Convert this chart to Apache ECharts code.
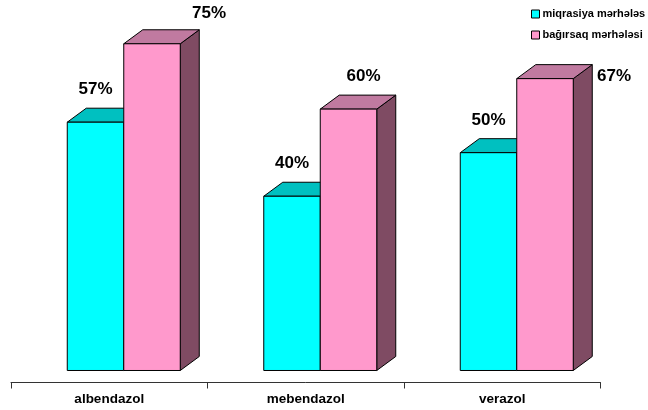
<!DOCTYPE html>
<html>
<head>
<meta charset="utf-8">
<script src="https://cdn.jsdelivr.net/npm/echarts@6/dist/echarts.min.js"></script>
<style>
html,body{margin:0;padding:0;background:#fff;}
#chart{width:648px;height:410px;}
</style>
</head>
<body>
<div id="chart"></div>
<script>
const categories = ['albendazol', 'mebendazol', 'verazol'];
const seriesNames = ['miqrasiya mərhələs', 'bağırsaq mərhələsi'];
const migrationValues = [57, 40, 50];
const intestinalValues = [75, 60, 67];

// style settings (not data)
const FONT = 'Liberation Sans, Arial, sans-serif';
const faceColors = [
  { front: '#00FFFF', top: '#00C0C0', side: '#008080' },
  { front: '#FF99CC', top: '#C07AA0', side: '#7F4B63' }
];
const barStartFrac = [-42 / 196.5, 14.5 / 196.5];
const barWidthFrac = 56.5 / 196.5;
const depthFrac = 19 / 196.5;
const depthRatio = 14 / 19;
const floorGap = 2.755; // floor of 3D bars sits above the axis line
const labelShift = [
  [[0, -33], [0, -33], [0, -32]],
  [[57, -30], [15, -33], [69, -2]]
];

function makeRender(sIdx) {
  return function (params, api) {
    const idx = api.value(0);
    const val = api.value(1);
    const c = api.coord([idx, val]);
    const b = api.coord([idx, 0]);
    const bw = api.size([1, 0])[0];
    const x0 = c[0] + barStartFrac[sIdx] * bw;
    const w = barWidthFrac * bw;
    const top = c[1];
    const bottom = b[1];
    const dx = depthFrac * bw;
    const dy = dx * depthRatio;
    const col = faceColors[sIdx];
    const stroke = { stroke: '#000', lineWidth: 1 };
    const sh = labelShift[sIdx][params.dataIndex];
    return {
      type: 'group',
      children: [
        { type: 'polygon', shape: { points: [[x0 + w, top], [x0 + w + dx, top - dy], [x0 + w + dx, bottom - dy], [x0 + w, bottom]] },
          style: Object.assign({ fill: col.side }, stroke) },
        { type: 'polygon', shape: { points: [[x0, top], [x0 + dx, top - dy], [x0 + w + dx, top - dy], [x0 + w, top]] },
          style: Object.assign({ fill: col.top }, stroke) },
        { type: 'rect', shape: { x: x0, y: top, width: w, height: bottom - top },
          style: Object.assign({ fill: col.front }, stroke) },
        { type: 'text', x: x0 + w / 2 + sh[0], y: top + sh[1],
          style: { text: val + '%', fill: '#000', font: 'bold 17px ' + FONT, align: 'center', verticalAlign: 'middle' } }
      ]
    };
  };
}

const chart = echarts.init(document.getElementById('chart'), null, { renderer: 'canvas' });
chart.setOption({
  animation: false,
  backgroundColor: '#fff',
  grid: { left: 11, right: 47.5, top: 22, bottom: 27.5, containLabel: false },
  legend: {
    orient: 'vertical',
    left: 531, top: 8, padding: 0,
    itemWidth: 8, itemHeight: 8, itemGap: 9,
    icon: 'rect',
    itemStyle: { borderColor: '#000', borderWidth: 1 },
    textStyle: { fontFamily: FONT, fontWeight: 'bold', fontSize: 11, color: '#000', lineHeight: 12, padding: [0, 0, 0, -2] },
    data: seriesNames
  },
  xAxis: {
    type: 'category',
    data: categories,
    axisLine: { onZero: false, lineStyle: { color: '#333', width: 1 } },
    axisTick: { show: true, length: 6, alignWithLabel: false, lineStyle: { color: '#333' } },
    axisLabel: { fontFamily: FONT, fontWeight: 'bold', fontSize: 13.5, color: '#000', margin: 10 }
  },
  yAxis: {
    type: 'value', min: -floorGap, max: 80, show: false
  },
  series: [
    { name: seriesNames[0], type: 'custom', itemStyle: { color: faceColors[0].front },
      data: migrationValues.map((v, i) => [i, v]), renderItem: makeRender(0), clip: false },
    { name: seriesNames[1], type: 'custom', itemStyle: { color: faceColors[1].front },
      data: intestinalValues.map((v, i) => [i, v]), renderItem: makeRender(1), clip: false }
  ]
});
</script>
</body>
</html>
